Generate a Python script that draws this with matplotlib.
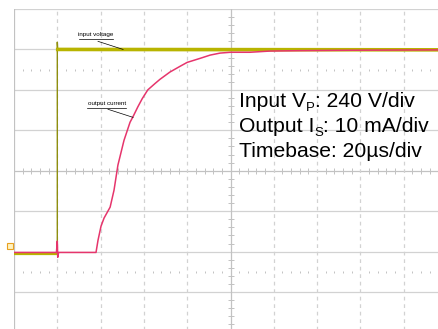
import numpy as np
import matplotlib
matplotlib.use("Agg")
import matplotlib.pyplot as plt
from matplotlib.transforms import offset_copy

plt.rcParams["font.family"] = ["Liberation Sans", "DejaVu Sans"]

# ── Traces (screen divisions, centre = 0,0) ─────────────────────────
V_T = [-5.0, -4.0, -4.0, -3.99, 5.0]
V_Y = [-2.065, -2.065, 3.18, 3.0, 2.99]

I_T = [-5.0, -4.02, -4.0, -3.99, -3.97, -3.106, -3.06, -2.99, -2.92, -2.78,
       -2.69, -2.60, -2.46, -2.32, -2.25, -2.14, -2.04, -1.91, -1.74, -1.63,
       -1.40, -1.17, -1.00, -0.70, -0.47, -0.24, 0.0, 0.45, 0.91, 1.61,
       2.76, 5.0]
I_Y = [-2.02, -2.02, -1.74, -2.14, -2.02, -2.02, -1.72, -1.37, -1.17, -0.90,
       -0.48, 0.14, 0.75, 1.20, 1.34, 1.58, 1.78, 2.00, 2.16, 2.26,
       2.44, 2.58, 2.68, 2.78, 2.86, 2.91, 2.93, 2.93, 2.96, 2.97,
       2.98, 2.99]

# (text, subscript?) runs for each settings line
SCALE_LINES = [[("Input V", False), ("P", True), (": 240 V/div", False)],
               [("Output I", False), ("S", True), (": 10 mA/div", False)],
               [("Timebase: 20\u00b5s/div", False)]]

GRID = "#d2d2d2"
AXIS = "#c2c2c2"
YELLOW = "#b8b400"
OLIVE = "#8f8f10"
RED = "#e6356c"

fig = plt.figure(figsize=(4.38, 3.29), dpi=100)
ax = fig.add_axes([14 / 438, -3.5 / 329, 433 / 438, 323.5 / 329])
ax.set_xlim(-5, 5)
ax.set_ylim(-4, 4)
ax.axis("off")

# graticule
for y in range(-4, 5):
    ax.axhline(y, color=AXIS if y == 0 else GRID, lw=0.9, zorder=1)
for x in range(-5, 6):
    if x in (-5, 0):
        ax.axvline(x, color=AXIS, lw=0.9, zorder=1)
    else:
        ax.axvline(x, color=GRID, lw=0.9, ls=(0, (3, 3)), zorder=1)

minor = np.round(np.arange(-5, 5.01, 0.2), 2)
minor = minor[np.abs(minor - np.round(minor)) > 1e-6]
ax.plot(minor, np.zeros_like(minor), ls="none", marker="|", ms=5,
        mew=0.7, color=AXIS, zorder=1)
yminor = np.round(np.arange(-4, 4.01, 0.2), 2)
yminor = yminor[np.abs(yminor - np.round(yminor)) > 1e-6]
ax.plot(np.zeros_like(yminor), yminor, ls="none", marker="_", ms=4,
        mew=0.7, color=AXIS, zorder=1)
for yd in (2.5, -2.5):
    ax.plot(minor, np.full_like(minor, yd), ls="none", marker="|", ms=2,
            mew=0.7, color=AXIS, zorder=1)

# input voltage
ax.plot(V_T, V_Y, color=OLIVE, lw=1.0, zorder=3)
ax.plot(V_T[3:], V_Y[3:], color=YELLOW, lw=2.6, zorder=3)
ax.plot(V_T[:2], V_Y[:2], color=YELLOW, lw=1.6, zorder=3)

# output current
ax.plot(I_T, I_Y, color=RED, lw=1.1, zorder=4)

# channel ground marker
ax.plot([-5.09], [-1.87], marker="s", ms=4, mfc="#fff3c0", mec="#e8a020",
        mew=0.8, clip_on=False, zorder=5)

# trace labels with leaders
for txt, (tx, ty), (x0, x1, uy), (lx0, ly0, lx1, ly1) in [
        ("input voltage", (-3.11, 3.30), (-3.50, -2.71, 3.25),
         (-3.06, 3.20, -2.48, 3.00)),
        ("output current", (-2.86, 1.60), (-3.31, -2.41, 1.55),
         (-2.83, 1.52, -2.25, 1.32))]:
    ax.text(tx, ty, txt, fontsize=4.5, ha="center", va="bottom", zorder=6)
    ax.plot([x0, x1], [uy, uy], color="black", lw=0.5, zorder=6)
    ax.plot([lx0, lx1], [ly0, ly1], color="black", lw=0.5, zorder=6)

# scale settings, subscripts dropped below the baseline
renderer = fig.canvas.get_renderer()
for i, runs in enumerate(SCALE_LINES):
    y = 1.57 - 0.62 * i
    dx = 0.0
    for s, sub in runs:
        tr = offset_copy(ax.transData, fig=fig, x=dx,
                         y=-2.5 if sub else 0, units="points")
        t = ax.text(0.2, y, s, fontsize=9.5 if sub else 15.2,
                    va="baseline", ha="left", transform=tr, zorder=6)
        dx += t.get_window_extent(renderer).width * 72 / fig.dpi

fig.savefig("out.png", dpi=100)
